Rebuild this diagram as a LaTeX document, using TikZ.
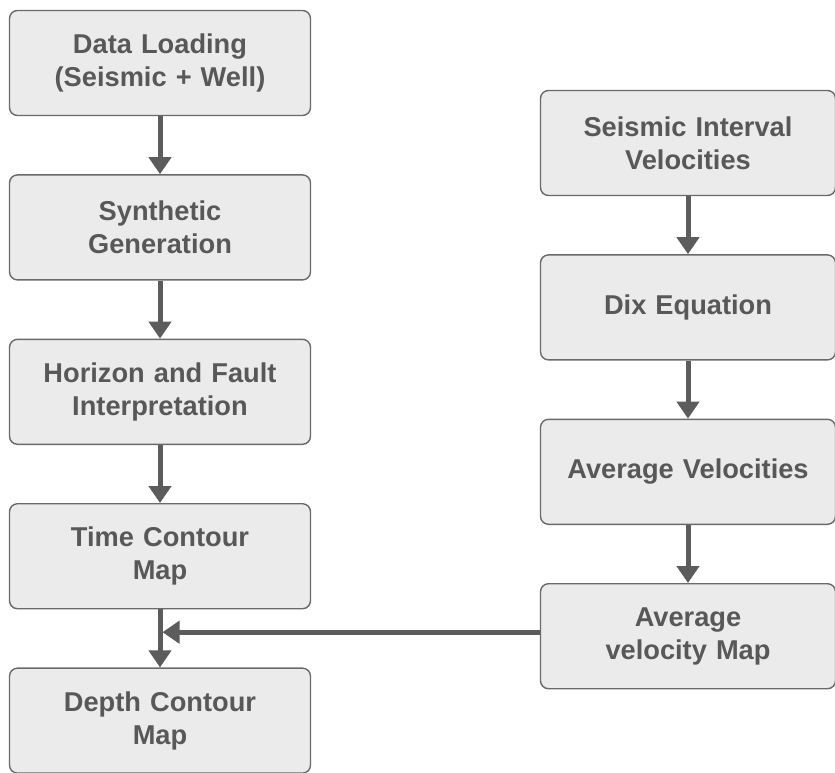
\documentclass[tikz,border=0pt]{standalone}
\usepackage{fontspec}
\setmainfont{Liberation Sans}
\usetikzlibrary{positioning,arrows.meta}
\definecolor{boxfill}{HTML}{EBEBEB}
\definecolor{boxline}{HTML}{6A6A6A}
\definecolor{boxtext}{HTML}{585858}
\definecolor{flowgray}{HTML}{5C5C5C}
\tikzset{
  flow/.style={draw=flowgray, line width=0.1cm,
    -{Triangle[width=0.44cm,length=0.34cm]}},
}

\begin{document}
\begin{tikzpicture}
[
stepnode/.style={rectangle, rounded corners=0.16cm, draw=boxline, fill=boxfill, thick,
  minimum width=6.02cm, minimum height=2.1cm, text width=5.6cm, align=center,
  text=boxtext, font=\fontsize{15.5}{18.8}\selectfont\bfseries},
velnode/.style={stepnode, minimum width=5.9cm},
node distance=1.16cm,
]
\useasboundingbox (0,0) rectangle (16.7,15.46);

%Nodes
\node[stepnode]   (loading)                        at (3.2,14.2) {Data Loading\\(Seismic + Well)};
\node[stepnode]   (synthetic)   [below=of loading]   {Synthetic\\Generation};
\node[stepnode]   (horizon)     [below=of synthetic] {Horizon and Fault\\Interpretation};
\node[stepnode]   (time)        [below=of horizon]   {Time Contour\\Map};
\node[stepnode]   (depth)       [below=of time]      {Depth Contour\\Map};
\node[velnode]    (interval)                       at (13.76,12.6) {Seismic Interval\\Velocities};
\node[velnode]    (dix)         [below=of interval]  {Dix Equation};
\node[velnode]    (average)     [below=of dix]       {Average Velocities};
\node[velnode]    (avgmap)      [below=of average]   {Average\\velocity Map};

%Lines
\draw[flow] (loading) -- (synthetic);
\draw[flow] (synthetic) -- (horizon);
\draw[flow] (horizon) -- (time);
\draw[flow] (time) -- (depth);
\draw[flow] (interval) -- (dix);
\draw[flow] (dix) -- (average);
\draw[flow] (average) -- (avgmap);
\draw[flow, shorten >=0.05cm] ([yshift=0.08cm]avgmap.west) -- ([yshift=0.08cm]avgmap.west -| time.south);

\end{tikzpicture}
\end{document}
